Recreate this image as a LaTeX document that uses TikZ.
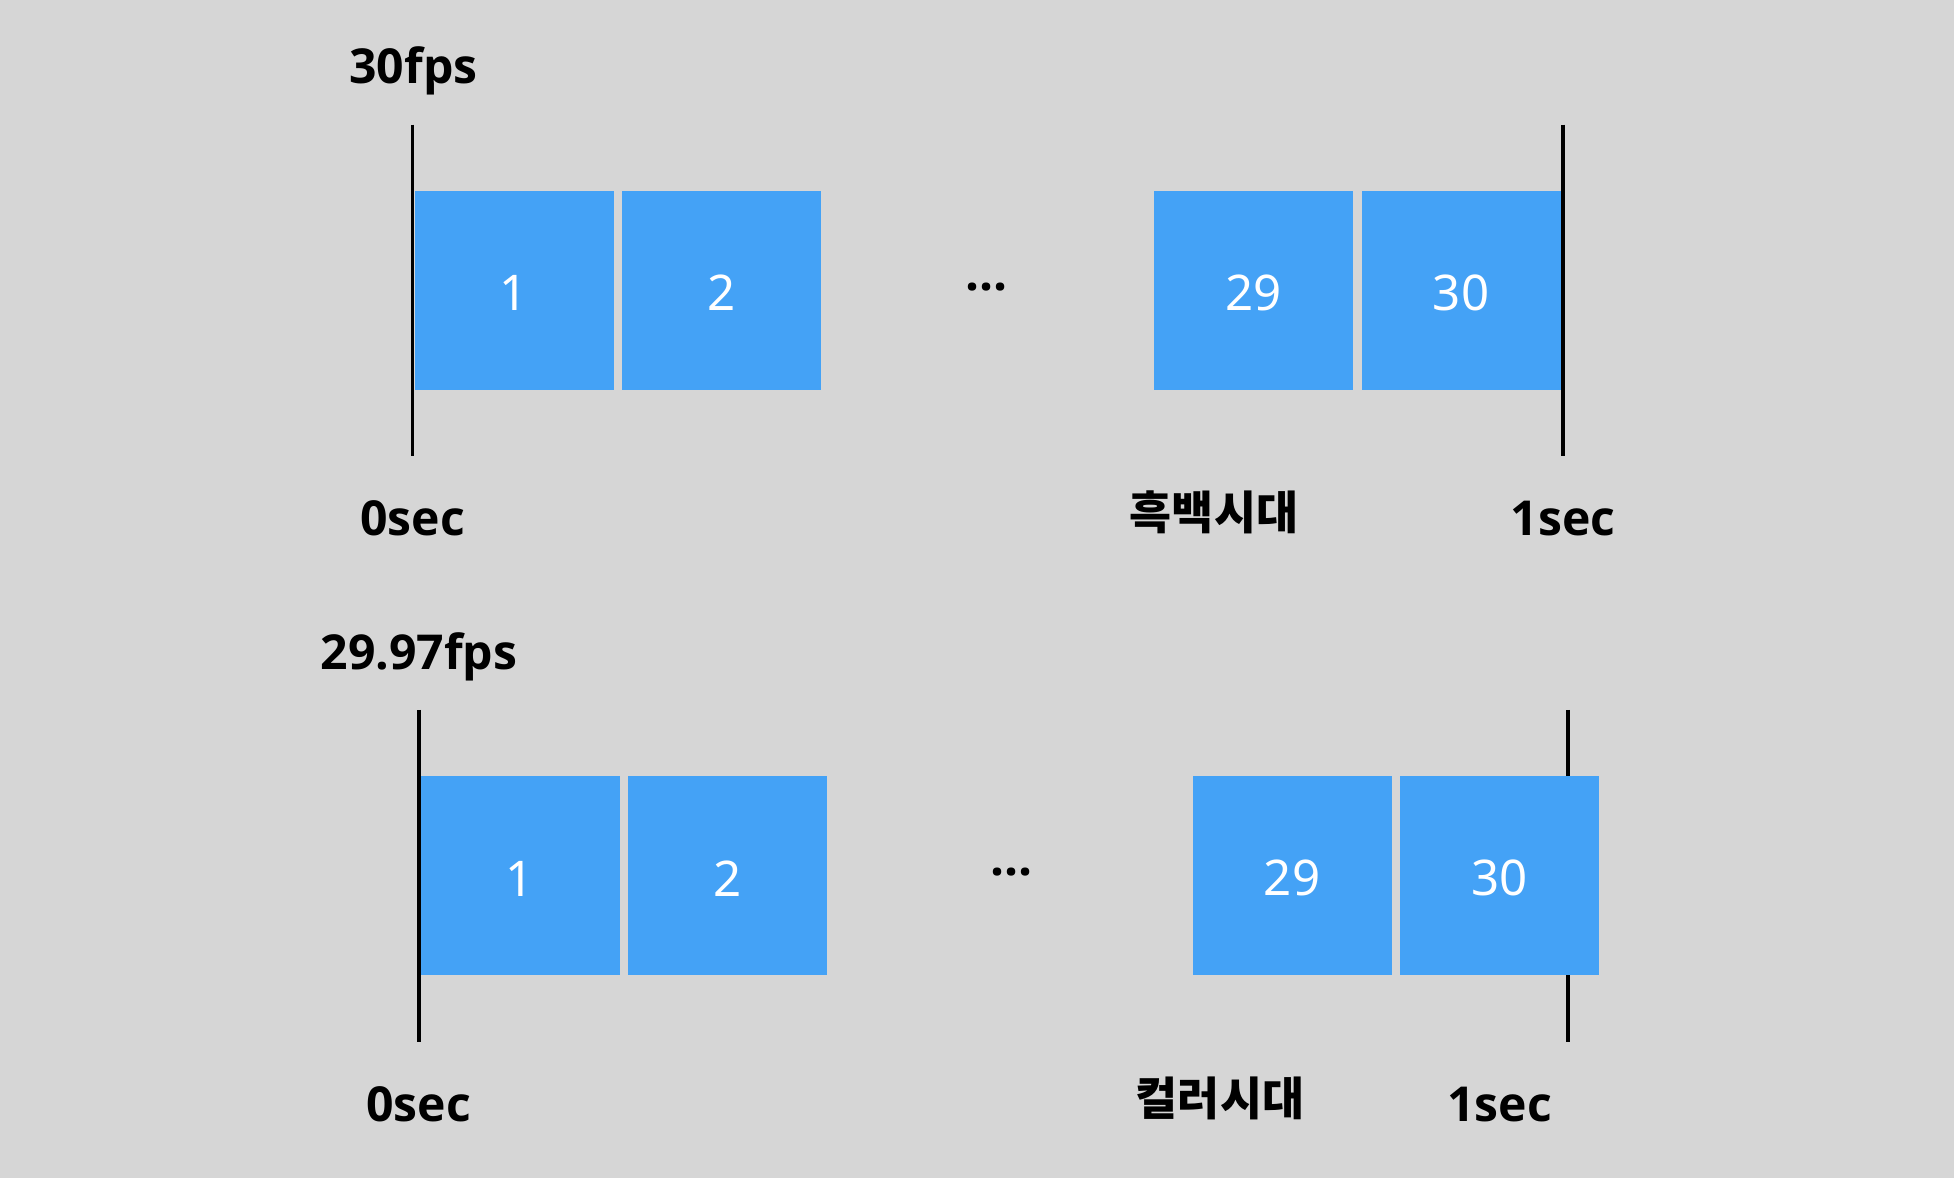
\documentclass[tikz,border=0pt]{standalone}
\usepackage{fontspec}
\setmainfont{Open Sans}
\newfontfamily\numfont{Noto Sans}
\newfontfamily\krfont{Noto Sans CJK KR}
\definecolor{bggray}{HTML}{D6D6D6}
\definecolor{frameblue}{HTML}{44A2F6}
\tikzset{
  frame/.style={fill=frameblue, minimum size=1.99cm, inner sep=0pt, text height=11.4pt, text=white, font=\fontsize{14}{16}\selectfont\numfont},
  label/.style={anchor=base, inner sep=0pt, font=\fontsize{13.7}{16}\selectfont\bfseries},
  krlabel/.style={anchor=base, inner sep=0pt, font=\fontsize{13}{16}\selectfont\krfont\bfseries},
  tick/.style={line width=1.1pt}
}
\begin{document}
\begin{tikzpicture}
\def\step{2.075};
\def\ya{8.876};
\def\yb{3.02};

\fill[bggray] (0, 0) rectangle (19.54, 11.78);

% 30fps
\draw[tick] (4.125, 10.534) -- (4.125, 7.22);
\draw[tick] (15.63, 10.534) -- (15.63, 7.22);
\node[frame] (a1) at (5.14, \ya) {1};
\node[frame] (a2) at (5.14+\step, \ya) {2};
\node[frame] (a29) at (12.535, \ya) {29};
\node[frame] (a30) at (12.535+\step, \ya) {30};
\node[inner sep=0pt, font=\fontsize{14}{16}\selectfont\bfseries] (adots) at (9.87, 8.91) {…};
\node[label] (afps) at (4.135, 10.94) {30fps};
\node[label] (azero) at (4.125, 6.42) {0sec};
\node[krlabel] (aera) at (12.14, 6.48) {흑백시대};
\node[label] (aone) at (15.63, 6.42) {1sec};

% 29.97fps
\draw[tick] (4.187, 4.68) -- (4.187, 1.36);
\draw[tick] (15.68, 4.68) -- (15.68, 1.36);
\node[frame] (b1) at (5.20, \yb) {1};
\node[frame] (b2) at (5.20+\step, \yb) {2};
\node[frame] (b29) at (12.92, \yb) {29};
\node[frame] (b30) at (12.92+\step, \yb) {30};
\node[inner sep=0pt, font=\fontsize{14}{16}\selectfont\bfseries] (bdots) at (10.115, 3.06) {…};
\node[label] (bfps) at (4.19, 5.083) {29.97fps};
\node[label] (bzero) at (4.187, 0.563) {0sec};
\node[krlabel] (bera) at (12.2, 0.623) {컬러시대};
\node[label] (bone) at (14.995, 0.563) {1sec};

\end{tikzpicture}
\end{document}
